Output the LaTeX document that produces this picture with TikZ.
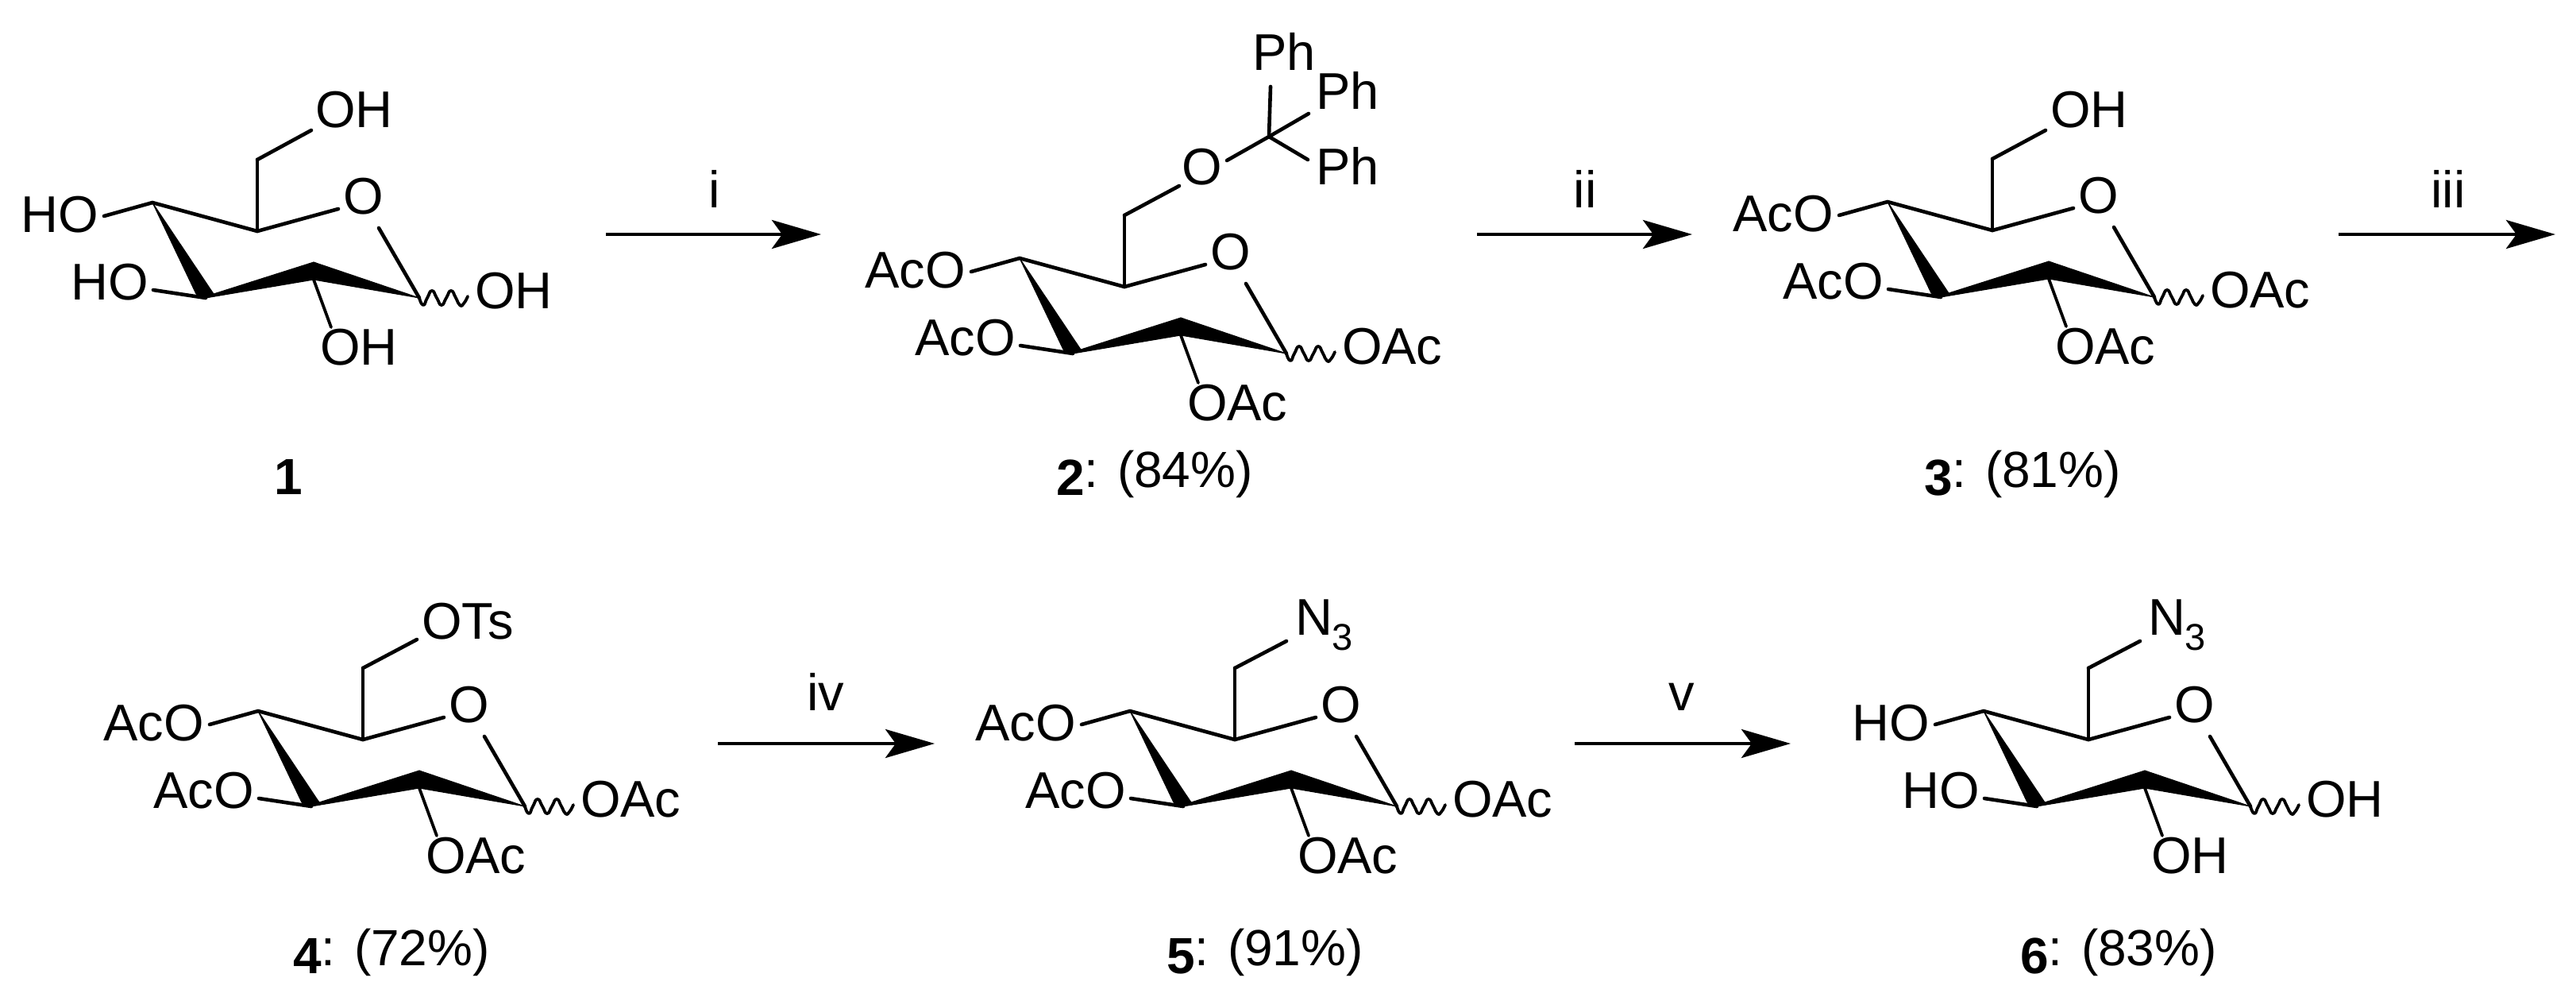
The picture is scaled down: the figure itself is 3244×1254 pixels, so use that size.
\documentclass[tikz,border=0pt]{standalone}
\usepackage{fontspec}
\setmainfont{Liberation Sans}
\usetikzlibrary{arrows.meta}
\tikzset{
  bond/.style={line width=4.6pt,line cap=round,line join=round},
  thinbond/.style={line width=3.8pt,line cap=round,line join=round},
  wedge/.style={fill=black,draw=black,line width=1pt,line join=round},
  wavybond/.style={line width=3.8pt,line cap=round,line join=round},
  atom/.style={inner sep=0pt,outer sep=0pt,font=\fontsize{65}{70}\selectfont},
  cmpd/.style={inner sep=0pt,outer sep=0pt,anchor=base west,font=\fontsize{64}{70}\selectfont},
  rxn/.style={line width=4.6pt,-{Stealth[length=62pt,width=36pt,inset=13pt]}}
}
% name, C4 x, C4 y, upper-left text, lower-left text, right text, bottom text
\newcommand{\sugarring}[7]{%
\begin{scope}[shift={(#2,#3)}]
  \coordinate (#1-c4) at (0,0);
  \coordinate (#1-c5) at (132,36);
  \coordinate (#1-c6) at (132,-54);
  \coordinate (#1-c1) at (336,120);
  \coordinate (#1-c2t) at (203,75);
  \coordinate (#1-c2b) at (203,97);
  \coordinate (#1-c3) at (67,120);
  \coordinate (#1-c3l) at (55,115);
  \coordinate (#1-c3r) at (77,115);
  \coordinate (#1-ol) at (234,8);
  \coordinate (#1-or) at (285,32);
  \coordinate (#1-s4) at (-61,17);
  \coordinate (#1-s3) at (1,110);
  \coordinate (#1-s2) at (225,157);
  \node[atom,anchor=base] (#1-o) at (266,14) {O};
  \node[atom,anchor=base east] (#1-ul) at (-68,37) {#4};
  \node[atom,anchor=base east] (#1-ll) at (-5,122) {#5};
  \node[atom,anchor=base west] (#1-r) at (406,133) {#6};
  \node[atom,anchor=base west] (#1-b) at (211,204) {#7};
  \draw[bond] (#1-c4) -- (#1-c5);
  \draw[bond] (#1-c5) -- (#1-ol);
  \draw[bond] (#1-c5) -- (#1-c6);
  \draw[bond] (#1-or) -- (#1-c1);
  \draw[bond] (#1-c4) -- (#1-s4);
  \draw[bond] (#1-c3) -- (#1-s3);
  \draw[thinbond] (#1-c2b) -- (#1-s2);
  \fill[wedge] (#1-c4) -- (#1-c3r) -- (#1-c3) -- (#1-c3l) -- cycle;
  \fill[wedge] (#1-c3) -- (#1-c3r) -- (#1-c2t) -- (#1-c2b) -- cycle;
  \fill[wedge] (#1-c2t) -- (#1-c1) -- (#1-c2b) -- cycle;
  \draw[wavybond] plot[smooth,tension=1] coordinates {(#1-c1) (341,129) (346,120) (352,111) (358,120) (364,129) (370,120) (376,111) (382,120) (387,129) (392,127) (397,118)};
\end{scope}}
\begin{document}
\begin{tikzpicture}[x=1pt,y=-1pt]
\useasboundingbox (0,0) rectangle (3244,1254);

\sugarring{m1}{192}{255}{HO}{HO}{OH}{OH}
\sugarring{m2}{1284}{325}{AcO}{AcO}{OAc}{OAc}
\sugarring{m3}{2377}{254}{AcO}{AcO}{OAc}{OAc}
\sugarring{m4}{325}{895}{AcO}{AcO}{OAc}{OAc}
\sugarring{m5}{1423}{895}{AcO}{AcO}{OAc}{OAc}
\sugarring{m6}{2498}{895}{HO}{HO}{OH}{OH}

% C6 substituents
\node[atom,anchor=base west] (oh1) at (397,160) {OH};
\coordinate (e1) at (392,164);
\draw[bond] (m1-c6) -- (e1);

\node[atom,anchor=base] (o2) at (1514,232) {O};
\coordinate (e2) at (1485,234);
\coordinate (o2r) at (1545,202);
\coordinate (ctr) at (1598,172);
\coordinate (p1) at (1600,109);
\coordinate (p2) at (1648,143);
\coordinate (p3) at (1647,201);
\node[atom,anchor=base west] (ph1) at (1577,88) {Ph};
\node[atom,anchor=base west] (ph2) at (1657,137) {Ph};
\node[atom,anchor=base west] (ph3) at (1657,232) {Ph};
\draw[bond] (m2-c6) -- (e2);
\draw[bond] (o2r) -- (ctr);
\draw[bond] (ctr) -- (p1);
\draw[bond] (ctr) -- (p2);
\draw[bond] (ctr) -- (p3);

\node[atom,anchor=base west] (oh3) at (2582,160) {OH};
\coordinate (e3) at (2576,164);
\draw[bond] (m3-c6) -- (e3);

\node[atom,anchor=base west] (ots) at (531,804) {OTs};
\coordinate (e4) at (525,805);
\draw[bond] (m4-c6) -- (e4);

\node[atom,anchor=base west] (n5) at (1631,799) {N\raisebox{-19pt}{\fontsize{47}{50}\selectfont 3}};
\coordinate (e5) at (1620,807);
\draw[bond] (m5-c6) -- (e5);

\node[atom,anchor=base west] (n6) at (2705,799) {N\raisebox{-19pt}{\fontsize{47}{50}\selectfont 3}};
\coordinate (e6) at (2695,807);
\draw[bond] (m6-c6) -- (e6);

% arrows
\coordinate (a1s) at (763,295); \coordinate (a1e) at (1034,295);
\coordinate (a2s) at (1860,295); \coordinate (a2e) at (2131,295);
\coordinate (a3s) at (2945,295); \coordinate (a3e) at (3218,295);
\coordinate (a4s) at (904,936); \coordinate (a4e) at (1177,936);
\coordinate (a5s) at (1983,936); \coordinate (a5e) at (2255,936);
\draw[rxn] (a1s) -- (a1e);
\draw[rxn] (a2s) -- (a2e);
\draw[rxn] (a3s) -- (a3e);
\draw[rxn] (a4s) -- (a4e);
\draw[rxn] (a5s) -- (a5e);
\node[atom,anchor=base] (l1) at (900,261) {i};
\node[atom,anchor=base] (l2) at (1996,261) {ii};
\node[atom,anchor=base] (l3) at (3083,261) {iii};
\node[atom,anchor=base] (l4) at (1040,894) {iv};
\node[atom,anchor=base] (l5) at (2118,894) {v};

% compound labels
\node[cmpd] (c1) at (345,612) {\raisebox{-10pt}{\bfseries 1}};
\node[cmpd] (c2) at (1330,613) {\raisebox{-10pt}{\bfseries 2}: (84\%)};
\node[cmpd] (c3) at (2423,613) {\raisebox{-10pt}{\bfseries 3}: (81\%)};
\node[cmpd] (c4) at (369,1215) {\raisebox{-10pt}{\bfseries 4}: (72\%)};
\node[cmpd] (c5) at (1469,1215) {\raisebox{-10pt}{\bfseries 5}: (91\%)};
\node[cmpd] (c6) at (2544,1215) {\raisebox{-10pt}{\bfseries 6}: (83\%)};
\end{tikzpicture}
\end{document}
